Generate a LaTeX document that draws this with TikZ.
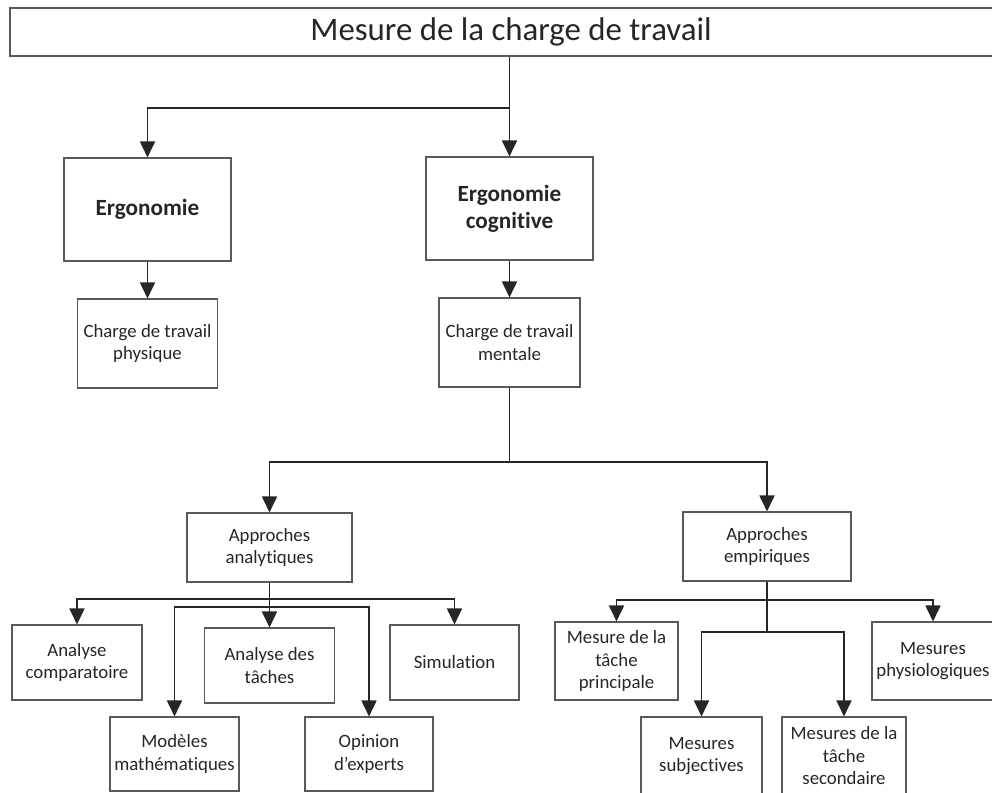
\documentclass[tikz,border=0pt]{standalone}
\usepackage{fontspec}
\setmainfont{Carlito}[Ligatures={NoCommon,NoContextual}]
\usepackage{tikz}
\usetikzlibrary{arrows.meta}
\usetikzlibrary{positioning}

\begin{document}
\begin{tikzpicture}[x=0.02cm,y=-0.02cm,
  boite/.style={draw=black!65,line width=0.6pt,fill=white,rectangle,align=center,inner sep=2pt,
    text=black!85,font=\fontsize{10.7}{12.8}\selectfont},
  gras/.style={font=\fontsize{13.2}{15.5}\selectfont\bfseries},
  taille/.style 2 args={minimum width=#1*0.02cm,minimum height=#2*0.02cm},
  trait/.style={draw=black!85,line width=1pt},
  fleche/.style={trait,-{Triangle[length=0.32cm,width=0.3cm]}}]
  \useasboundingbox (0,0) rectangle (992,793);

  % titre
  \node[boite,taille={990}{48}] (titre) at (505,32) {};
  \node[text=black!85,font=\fontsize{18.7}{22}\selectfont] (titretxt) at (511,32) {Mesure de la charge de travail};

  \node[boite,gras,taille={167}{103}] (ergo) at (147.5,209.5) {Ergonomie};
  \node[boite,gras,taille={167}{103}] (ergocog) at (509.5,208.5) {Ergonomie\\cognitive};
  \node[boite,taille={140}{89}] (physique) at (147.5,343.5) {Charge de travail\\physique};
  \node[boite,taille={141}{89}] (mentale) at (509.5,342.5) {Charge de travail\\mentale};

  \node[boite,taille={165}{69}] (analytiques) at (269.5,547.5) {Approches\\analytiques};
  \node[boite,taille={168}{69}] (empiriques) at (767,546.5) {Approches\\empiriques};

  \node[boite,taille={130}{75}] (comparatoire) at (77,662.5) {Analyse\\comparatoire};
  \node[boite,taille={130}{75}] (taches) at (269.5,665.5) {Analyse des\\tâches};
  \node[boite,taille={129}{75}] (simulation) at (454.5,662.5) {Simulation};
  \node[boite,taille={129}{74}] (modeles) at (174.5,754) {Modèles\\mathématiques};
  \node[boite,taille={128}{74}] (opinion) at (369,754) {Opinion\\d’experts};

  \node[boite,taille={123}{78}] (principale) at (616.5,661) {Mesure de la\\tâche\\principale};
  \node[boite,taille={122}{78}] (physiologiques) at (933,661) {Mesures\\physiologiques};
  \node[boite,taille={121}{78}] (subjectives) at (701.5,756) {Mesures\\subjectives};
  \node[boite,taille={124}{78}] (secondaire) at (844,756) {Mesures de la\\tâche\\secondaire};

  % niveaux des branchements
  \coordinate (j1) at (509.5,108);
  \coordinate (j2) at (509.5,462);
  \coordinate (n1) at (0,599);
  \coordinate (n2) at (0,607);
  \coordinate (n3) at (0,600);
  \coordinate (n4) at (0,632);

  \draw[trait,line width=0.6pt] (titre.south -| j1) -- (j1);
  \draw[fleche] (j1) -| (ergo.north);
  \draw[fleche] (j1) -- (ergocog.north);
  \draw[fleche] (ergo.south) -- (physique.north);
  \draw[fleche] (ergocog.south) -- (mentale.north);

  \draw[trait,line width=0.6pt] (mentale.south) -- (j2);
  \draw[fleche] (j2) -| (analytiques.north);
  \draw[fleche] (j2) -| (empiriques.north);

  \draw[fleche] (analytiques.south) -- (taches.north);
  \draw[fleche] (analytiques.south |- n1) -| (comparatoire.north);
  \draw[fleche] (analytiques.south |- n1) -| (simulation.north);
  \draw[fleche] (analytiques.south |- n2) -| (modeles.north);
  \draw[fleche] (analytiques.south |- n2) -| (opinion.north);

  \draw[trait,line width=0.6pt] (empiriques.south) -- (empiriques.south |- n4);
  \draw[fleche] (empiriques.south |- n3) -| (principale.north);
  \draw[fleche] (empiriques.south |- n3) -| (physiologiques.north);
  \draw[fleche] (empiriques.south |- n4) -| (subjectives.north);
  \draw[fleche] (empiriques.south |- n4) -| (secondaire.north);
\end{tikzpicture}
\end{document}
